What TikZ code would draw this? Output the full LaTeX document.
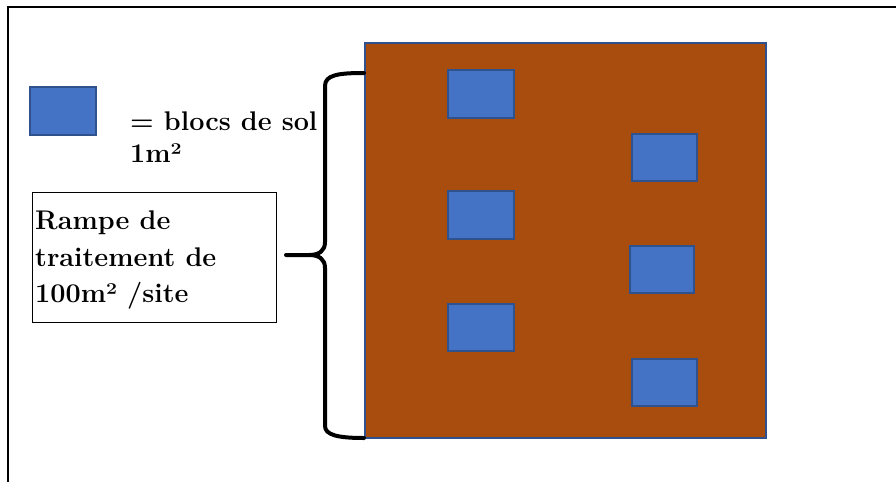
\documentclass[tikz,border=0pt]{standalone}
\usepackage{fontspec}
\definecolor{soil}{HTML}{A84D0E}
\definecolor{blockfill}{HTML}{4472C4}
\definecolor{blockline}{HTML}{2F528F}
\tikzset{
  frameline/.style={line width=2pt, black},
  soilplot/.style={fill=soil, draw=blockline, line width=1.5pt},
  soilblock/.style={fill=blockfill, draw=blockline, line width=1.5pt},
  labeltext/.style={font=\fontsize{27}{32}\selectfont\bfseries, inner sep=0pt, anchor=base west},
  infobox/.style={draw=black, line width=1pt, fill=white},
  bracket/.style={line width=4pt, black, line cap=round, line join=round}
}
\begin{document}
\begin{tikzpicture}[x=1pt, y=-1pt]
\useasboundingbox (0,0) rectangle (896,482);
% open frame: top and left edges only
\draw[frameline] (8,482) -- (8,7) -- (896,7);

% treated plot
\path[soilplot] (365,43) rectangle (766,438);
\path[soilblock] (448,70) rectangle (514,118);
\path[soilblock] (632,134) rectangle (697,181);
\path[soilblock] (448,191) rectangle (514,239);
\path[soilblock] (630,246) rectangle (694,293);
\path[soilblock] (448,304) rectangle (514,351);
\path[soilblock] (632,359) rectangle (697,406);

% legend
\path[soilblock] (30,87) rectangle (96,135);
\node[labeltext] (leg1) at (130,130) {= blocs de sol};
\node[labeltext] (leg2) at (130,162) {1m²};

% description box
\path[infobox] (32,192) rectangle (276,322);
\node[labeltext] (r1) at (35,229) {Rampe de};
\node[labeltext] (r2) at (35,266) {traitement de};
\node[labeltext] (r3) at (35,302) {100m² /site};

% curly bracket along the plot
\draw[bracket] (364,73) .. controls (338,73) and (325,75) .. (325,86)
  -- (325,242) .. controls (325,251) and (319,255) .. (309,255) -- (286,255)
  (309,255) .. controls (319,255) and (325,259) .. (325,268)
  -- (325,426) .. controls (325,435) and (338,438) .. (364,438);
\end{tikzpicture}
\end{document}
